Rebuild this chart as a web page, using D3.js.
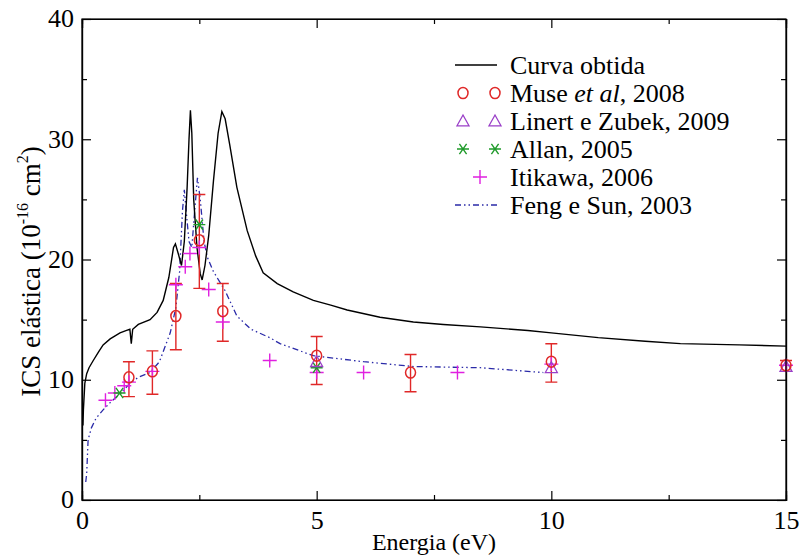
<!DOCTYPE html>
<html>
<head>
<meta charset="utf-8">
<script src="https://cdn.jsdelivr.net/npm/d3@7"></script>
<style>
  body { margin: 0; background: #fff; }
</style>
</head>
<body>
<svg id="chart"></svg>
<script>
// black curve (Curva obtida)
const curveE = [0.02, 0.03, 0.06, 0.1, 0.15, 0.24, 0.35, 0.45, 0.6, 0.81, 0.95, 1.02, 1.05, 1.08, 1.2, 1.45, 1.6, 1.73, 1.85, 1.95, 1.99, 2.05, 2.12, 2.18, 2.24, 2.28, 2.31, 2.34, 2.38, 2.45, 2.52, 2.56, 2.62, 2.7, 2.8, 2.9, 2.98, 3.05, 3.15, 3.3, 3.52, 3.7, 3.86, 4.16, 4.5, 4.93, 5.3, 5.65, 6.35, 7.06, 7.7, 8.49, 9.5, 10.0, 11.0, 12.0, 12.75, 14.0, 15.0];
const curveV = [6.2, 7.5, 9.7, 10.5, 11.0, 11.6, 12.3, 12.9, 13.4, 13.9, 14.1, 14.2, 13.0, 14.2, 14.6, 15.0, 15.6, 16.6, 18.5, 21.0, 21.3, 20.5, 19.5, 21.5, 26.0, 30.0, 32.4, 30.5, 25.0, 21.0, 18.8, 18.3, 19.5, 22.0, 26.5, 30.5, 32.3, 31.7, 29.5, 26.0, 22.4, 20.3, 18.9, 18.0, 17.3, 16.6, 16.2, 15.8, 15.2, 14.8, 14.6, 14.4, 14.1, 13.9, 13.5, 13.2, 13.0, 12.9, 12.8];

// Feng e Sun, 2003
const fengE = [0.08, 0.1, 0.13, 0.2, 0.3, 0.45, 0.6, 0.74, 0.9, 1.02, 1.2, 1.45, 1.65, 1.88, 2.0, 2.08, 2.14, 2.18, 2.22, 2.28, 2.34, 2.4, 2.46, 2.52, 2.6, 2.67, 2.8, 3.05, 3.3, 3.6, 4.0, 4.22, 4.93, 6.0, 7.06, 8.49, 9.83];
const fengV = [1.5, 2.2, 5.0, 6.0, 6.8, 7.5, 8.1, 8.6, 9.2, 9.7, 10.2, 10.6, 11.5, 13.9, 16.0, 19.0, 24.0, 25.8, 24.0, 21.5, 21.0, 24.0, 26.8, 25.0, 21.5, 20.2, 19.0, 17.4, 15.3, 14.2, 13.5, 13.0, 12.0, 11.5, 11.1, 11.0, 10.6];

// Muse et al, 2008 (with error bars)
const museE = [1.0, 1.5, 2.0, 2.5, 3.0, 5.0, 7.0, 10.0, 15.0];
const museV = [10.2, 10.7, 15.3, 21.6, 15.7, 12.0, 10.6, 11.5, 11.2];
const museLo = [8.6, 8.8, 12.5, 17.6, 13.2, 9.6, 9.0, 9.8, 10.7];
const museHi = [11.5, 12.4, 18.0, 25.4, 18.0, 13.6, 12.1, 13.0, 11.6];

// Linert e Zubek, 2009
const linertE = [5.0, 10.0, 15.0];
const linertV = [11.5, 11.0, 11.1];

// Allan, 2005
const allanE = [0.8, 2.5, 5.0];
const allanV = [8.9, 22.9, 11.0];

// Itikawa, 2006
const itikawaE = [0.5, 0.7, 0.9, 1.0, 1.5, 2.0, 2.2, 2.3, 2.5, 2.7, 3.0, 4.0, 5.0, 6.0, 8.0, 10.0, 15.0];
const itikawaV = [8.3, 8.9, 9.5, 9.8, 10.7, 17.9, 19.4, 20.5, 21.0, 17.5, 14.8, 11.6, 10.6, 10.6, 10.6, 11.3, 11.2];

const xTicks = [0, 5, 10, 15];
const xMinor = [2.5, 7.5, 12.5];
const yTicks = [0, 10, 20, 30, 40];
const yMinor = [5, 15, 25, 35];

const FONT = '"Liberation Serif", monospace';

const W = 801, H = 555;
const margin = {top: 19, right: 15, bottom: 55, left: 82};
const width = W - margin.left - margin.right;
const height = H - margin.top - margin.bottom;

const colors = {
  curve: '#000000',
  muse: '#e02828',
  linert: '#9a3fc8',
  allan: '#1f9a2a',
  itikawa: '#e020e0',
  feng: '#2a2aa8'
};

const svg = d3.select('#chart').attr('width', W).attr('height', H)
  .attr('font-family', 'Liberation Serif');
const g = svg.append('g').attr('transform', `translate(${margin.left},${margin.top})`);

const x = d3.scaleLinear().domain([0, 15]).range([0, width]);
const y = d3.scaleLinear().domain([0, 40]).range([height, 0]);

// axes: ticks pointing inward on all four sides
function addAxis(axisFn, vals, size, labels, transform) {
  const a = axisFn.tickValues(vals).tickSize(-size).tickPadding(8);
  if (!labels) a.tickFormat('');
  const ag = g.append('g').attr('transform', transform).call(a);
  ag.attr('font-family', 'Liberation Serif').attr('font-size', 26);
  ag.selectAll('line, path').attr('stroke', '#000').attr('stroke-width', 1.2);
  ag.selectAll('text').style('font-family', FONT).attr('fill', '#000');
  return ag;
}
addAxis(d3.axisBottom(x), xTicks, 9, true, `translate(0,${height})`).selectAll('text').attr('dy', '0.8em');
addAxis(d3.axisBottom(x), xMinor, 5, false, `translate(0,${height})`);
addAxis(d3.axisTop(x), xTicks, 9, false, 'translate(0,0)');
addAxis(d3.axisTop(x), xMinor, 5, false, 'translate(0,0)');
addAxis(d3.axisLeft(y), yTicks, 9, true, 'translate(0,0)').selectAll('text').attr('dy', '0.3em');
addAxis(d3.axisLeft(y), yMinor, 5, false, 'translate(0,0)');
addAxis(d3.axisRight(y), yTicks, 9, false, `translate(${width},0)`);
addAxis(d3.axisRight(y), yMinor, 5, false, `translate(${width},0)`);

// axis titles
g.append('text')
  .attr('x', width / 2).attr('y', height + 50)
  .attr('text-anchor', 'middle')
  .style('font-family', FONT)
  .style('font-size', '24px')
  .text('Energia (eV)');

const yl = g.append('text')
  .attr('transform', `translate(${-42},${height / 2 + 12}) rotate(-90)`)
  .attr('text-anchor', 'middle')
  .style('font-family', FONT)
  .style('font-size', '27px');
yl.append('tspan').text('ICS elástica (10');
yl.append('tspan').attr('dy', -12).style('font-size', '16px').text('-16');
yl.append('tspan').attr('dy', 12).text(' cm');
yl.append('tspan').attr('dy', -12).style('font-size', '16px').text('2');
yl.append('tspan').attr('dy', 12).text(')');

const plot = g.append('g');

const line = d3.line().x(d => x(d[0])).y(d => y(d[1]));

plot.append('path')
  .datum(fengE.map((e, i) => [e, fengV[i]]))
  .attr('d', line)
  .attr('fill', 'none')
  .attr('stroke', colors.feng)
  .attr('stroke-width', 1.3)
  .attr('stroke-dasharray', '6,3,1.5,3,1.5,3');

plot.append('path')
  .datum(curveE.map((e, i) => [e, curveV[i]]))
  .attr('d', line)
  .attr('fill', 'none')
  .attr('stroke', colors.curve)
  .attr('stroke-width', 1.4);

// marker drawers
function circleMark(sel, cx, cy) {
  sel.append('ellipse').attr('cx', cx).attr('cy', cy).attr('rx', 5).attr('ry', 5.5)
    .attr('fill', 'none').attr('stroke', colors.muse).attr('stroke-width', 1.5);
}
function triMark(sel, cx, cy) {
  const s = 6;
  sel.append('path')
    .attr('d', `M${cx},${cy - s}L${cx + s},${cy + s * 0.8}L${cx - s},${cy + s * 0.8}Z`)
    .attr('fill', 'none').attr('stroke', colors.linert).attr('stroke-width', 1.3);
}
function starMark(sel, cx, cy) {
  const s = 6;
  const p = `M${cx - s},${cy}L${cx + s},${cy}M${cx - s * 0.6},${cy - s * 0.85}L${cx + s * 0.6},${cy + s * 0.85}M${cx + s * 0.6},${cy - s * 0.85}L${cx - s * 0.6},${cy + s * 0.85}`;
  sel.append('path').attr('d', p).attr('stroke', colors.allan).attr('stroke-width', 1.4);
}
function plusMark(sel, cx, cy) {
  const s = 7;
  sel.append('path').attr('d', `M${cx - s},${cy}L${cx + s},${cy}M${cx},${cy - s}L${cx},${cy + s}`)
    .attr('stroke', colors.itikawa).attr('stroke-width', 1.4);
}

// Muse error bars
museE.forEach((e, i) => {
  const cx = x(e), cap = 6;
  plot.append('path')
    .attr('d', `M${cx},${y(museLo[i])}L${cx},${y(museHi[i])}M${cx - cap},${y(museLo[i])}L${cx + cap},${y(museLo[i])}M${cx - cap},${y(museHi[i])}L${cx + cap},${y(museHi[i])}`)
    .attr('stroke', colors.muse).attr('stroke-width', 1.4).attr('fill', 'none');
});
itikawaE.forEach((e, i) => plusMark(plot, x(e), y(itikawaV[i])));
allanE.forEach((e, i) => starMark(plot, x(e), y(allanV[i])));
linertE.forEach((e, i) => triMark(plot, x(e), y(linertV[i])));
museE.forEach((e, i) => circleMark(plot, x(e), y(museV[i])));

// legend
const legend = svg.append('g').attr('transform', 'translate(455,65)');
const rowH = 28;
const lx0 = 0, lx1 = 42, tx = 55;
const kinds = ['line', 'muse', 'linert', 'allan', 'itikawa', 'feng'];
const labels = ['Curva obtida', null, 'Linert e Zubek, 2009', 'Allan, 2005', 'Itikawa, 2006', 'Feng e Sun, 2003'];
kinds.forEach((k, i) => {
  const cy = i * rowH;
  const row = legend.append('g');
  if (k === 'line') {
    row.append('line').attr('x1', lx0).attr('x2', lx1).attr('y1', cy).attr('y2', cy)
      .attr('stroke', colors.curve).attr('stroke-width', 1.4);
  } else if (k === 'feng') {
    row.append('line').attr('x1', lx0).attr('x2', lx1).attr('y1', cy).attr('y2', cy)
      .attr('stroke', colors.feng).attr('stroke-width', 1.3).attr('stroke-dasharray', '6,3,1.5,3,1.5,3');
  } else if (k === 'muse') {
    circleMark(row, 8, cy); circleMark(row, 40, cy);
  } else if (k === 'linert') {
    triMark(row, 8, cy); triMark(row, 40, cy);
  } else if (k === 'allan') {
    starMark(row, 8, cy); starMark(row, 40, cy);
  } else if (k === 'itikawa') {
    plusMark(row, 25, cy);
  }
  const t = row.append('text').attr('x', tx).attr('y', cy + 9)
    .style('font-family', FONT).style('font-size', '26px');
  if (k === 'muse') {
    t.append('tspan').text('Muse ');
    t.append('tspan').style('font-style', 'italic').text('et al');
    t.append('tspan').text(', 2008');
  } else {
    t.text(labels[i]);
  }
});

// frame
g.append('rect').attr('width', width).attr('height', height)
  .attr('fill', 'none').attr('stroke', '#000').attr('stroke-width', 1.2);
</script>
</body>
</html>
